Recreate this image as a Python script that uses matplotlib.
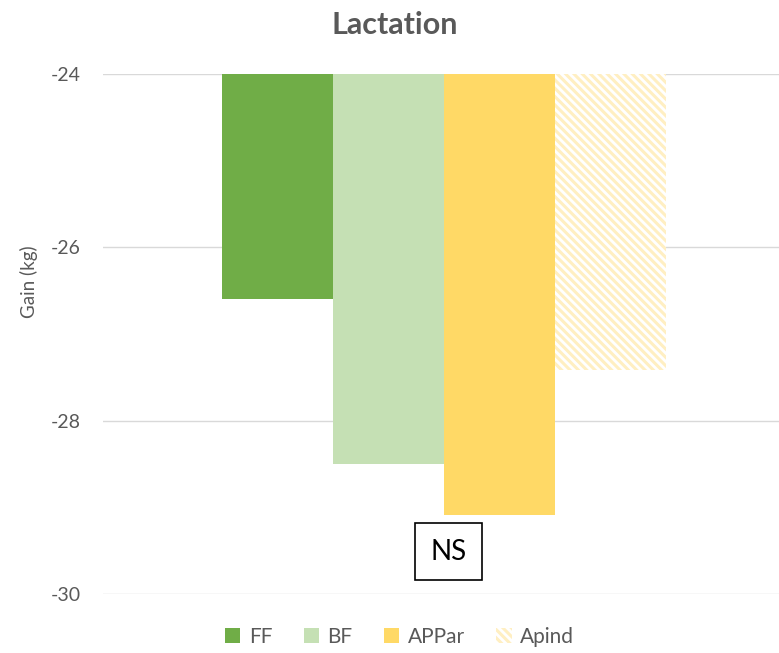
import numpy as np
import matplotlib.pyplot as plt

plt.rcParams['font.family'] = ['Lato', 'DejaVu Sans']
plt.rcParams['hatch.linewidth'] = 2.2

groups = ["FF", "BF", "APPar", "Apind"]
gains = [-26.6, -28.5, -29.09, -27.42]
colors = ["#70AD47", "#C5E0B4", "#FFD966", "white"]
hatches = [None, None, None, "\\\\\\\\"]
yticks = [-24, -26, -28, -30]
baseline = -24

fig = plt.figure(figsize=(7.79, 6.53), dpi=100)
ax = fig.add_axes([0.1322, 0.0904, 0.8678, 0.7963])

x = np.arange(len(groups))
for i, (g, v, c, h) in enumerate(zip(groups, gains, colors, hatches)):
    if h:
        ax.bar(x[i], v - baseline, bottom=baseline, width=1.0, color=c,
               edgecolor="#FFEFC2", hatch=h, linewidth=0, label=g)
    else:
        ax.bar(x[i], v - baseline, bottom=baseline, width=1.0, color=c,
               linewidth=0, label=g)

ax.set_xlim(-1.572, 4.518)
ax.set_ylim(-30, -24)
ax.set_yticks(yticks)
ax.set_yticklabels([str(t) for t in yticks])
ax.set_xticks([])
ax.yaxis.grid(True, color="#D9D9D9", linewidth=1)
ax.set_axisbelow(True)
for s in ax.spines.values():
    s.set_visible(False)
ax.tick_params(axis='y', length=0, pad=16, labelsize=14, labelcolor="#595959")

ax.set_ylabel("Gain (kg)", fontsize=13.5, color="#595959")
ax.yaxis.set_label_coords(-0.096, 0.6)
fig.text(0.507, 0.962, "Lactation", fontsize=22, fontweight="bold", color="#595959",
         ha="center", va="center")

ax.text(1.54, -29.51, "NS", fontsize=20, ha="center", va="center", color="black",
        bbox=dict(boxstyle="square,pad=0.55", facecolor="white", edgecolor="black", linewidth=1.2))

leg = ax.legend(loc="center", bbox_to_anchor=(0.4386, -0.083), ncol=4, frameon=False,
                fontsize=15, handlelength=0.75, handleheight=0.75, handletextpad=0.4,
                columnspacing=1.5)
for t in leg.get_texts():
    t.set_color("#595959")

fig.savefig("out.png", dpi=100)
